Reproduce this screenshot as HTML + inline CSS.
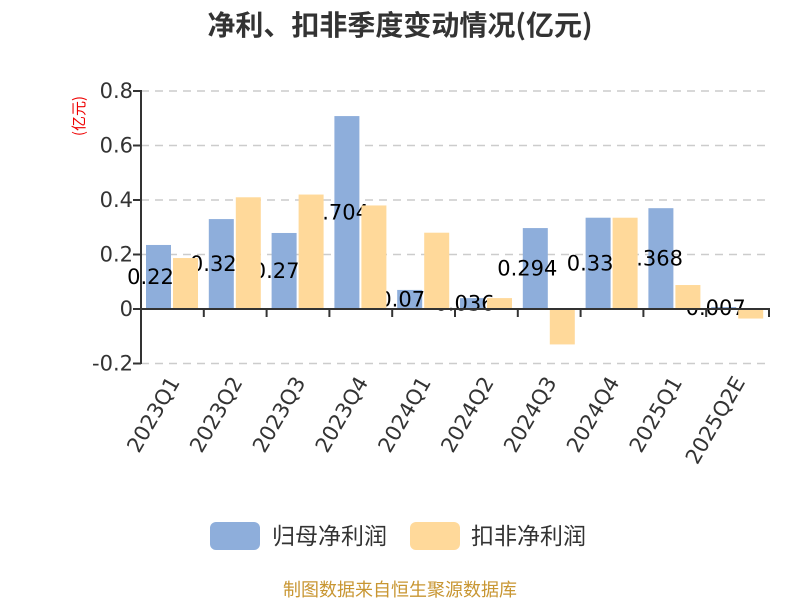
<!DOCTYPE html>
<html><head><meta charset="utf-8"><style>
html,body{margin:0;padding:0;background:#fff;}
svg{display:block;font-family:"Noto Sans CJK SC",sans-serif;}
.n{font-family:"DejaVu Sans",sans-serif;}
</style></head><body>
<svg width="800" height="600" viewBox="0 0 800 600" xmlns="http://www.w3.org/2000/svg">
<text x="400" y="35" text-anchor="middle" font-size="28" font-weight="bold" fill="#333">净利、扣非季度变动情况(亿元)</text>
<text transform="translate(84,116) rotate(-90)" text-anchor="middle" font-size="15" fill="#e00">(亿元)</text>
<g stroke="#ccc" stroke-dasharray="8,6" stroke-width="1.5">
<line x1="141" y1="91" x2="769" y2="91"/>
<line x1="141" y1="145.5" x2="769" y2="145.5"/>
<line x1="141" y1="200" x2="769" y2="200"/>
<line x1="141" y1="254.5" x2="769" y2="254.5"/>
<line x1="141" y1="363.5" x2="769" y2="363.5"/>
</g>
<g class="n" font-size="21" fill="#333" text-anchor="end">
<text x="133" y="98">0.8</text>
<text x="133" y="152.5">0.6</text>
<text x="133" y="207">0.4</text>
<text x="133" y="261.5">0.2</text>
<text x="133" y="316">0</text>
<text x="133" y="370.5">-0.2</text>
</g>
<g id="blue" fill="#8eaedb"></g>
<g id="lab" class="n" font-size="21" fill="#000" text-anchor="middle"></g>
<g id="orange" fill="#ffd99a"></g>
<g stroke="#333" stroke-width="2">
<line x1="141" y1="90" x2="141" y2="364"/>
<line x1="133" y1="91" x2="141" y2="91"/><line x1="133" y1="145.5" x2="141" y2="145.5"/><line x1="133" y1="200" x2="141" y2="200"/><line x1="133" y1="254.5" x2="141" y2="254.5"/><line x1="133" y1="309" x2="141" y2="309"/><line x1="133" y1="363.5" x2="141" y2="363.5"/>
<line x1="141" y1="309" x2="770" y2="309"/>
</g>
<g id="ticks" stroke="#333" stroke-width="2"></g>
<g id="xl" class="n" font-size="21" fill="#333" text-anchor="end"></g>
<rect x="210" y="522" width="50" height="28" rx="6" fill="#8eaedb"/>
<text x="272" y="544" font-size="23" fill="#333">归母净利润</text>
<rect x="410" y="522" width="50" height="28" rx="6" fill="#ffd99a"/>
<text x="471" y="544" font-size="23" fill="#333">扣非净利润</text>
<text x="400" y="596" text-anchor="middle" font-size="18" fill="#c89632">制图数据来自恒生聚源数据库</text>
</svg>
<script>
var ns="http://www.w3.org/2000/svg";
var cats=["2023Q1","2023Q2","2023Q3","2023Q4","2024Q1","2024Q2","2024Q3","2024Q4","2025Q1","2025Q2E"];
var b=[0.235,0.33,0.279,0.708,0.07,0.04,0.297,0.335,0.37,0.007];
var o=[0.187,0.41,0.42,0.38,0.28,0.04,-0.13,0.335,0.088,-0.035];
var lbl=["0.22","0.32","0.27","0.704","0.07","0.036","0.294","0.33","0.368","0.007"];
var z=309,s=272.5,w=62.8;
function el(p,t,a,txt){var e=document.createElementNS(ns,t);for(var k in a)e.setAttribute(k,a[k]);if(txt)e.textContent=txt;document.getElementById(p).appendChild(e);}
for(var i=0;i<10;i++){
 var x0=141+i*w;
 var bh=b[i]*s; el("blue","rect",{x:x0+5,y:z-bh,width:25,height:Math.max(bh,1)});
 var oh=o[i]*s; el("orange","rect",{x:x0+32,y:oh>=0?z-oh:z,width:25,height:Math.abs(oh)});
 el("lab","text",{x:x0+17.5-8,y:z-bh/2+7},lbl[i]);
 el("ticks","line",{x1:x0+w,y1:309,x2:x0+w,y2:317});
 var cx=x0+w/2+8;
 el("xl","text",{transform:"translate("+cx+",382) rotate(-60)"},cats[i]);
}
</script>
</body></html>
